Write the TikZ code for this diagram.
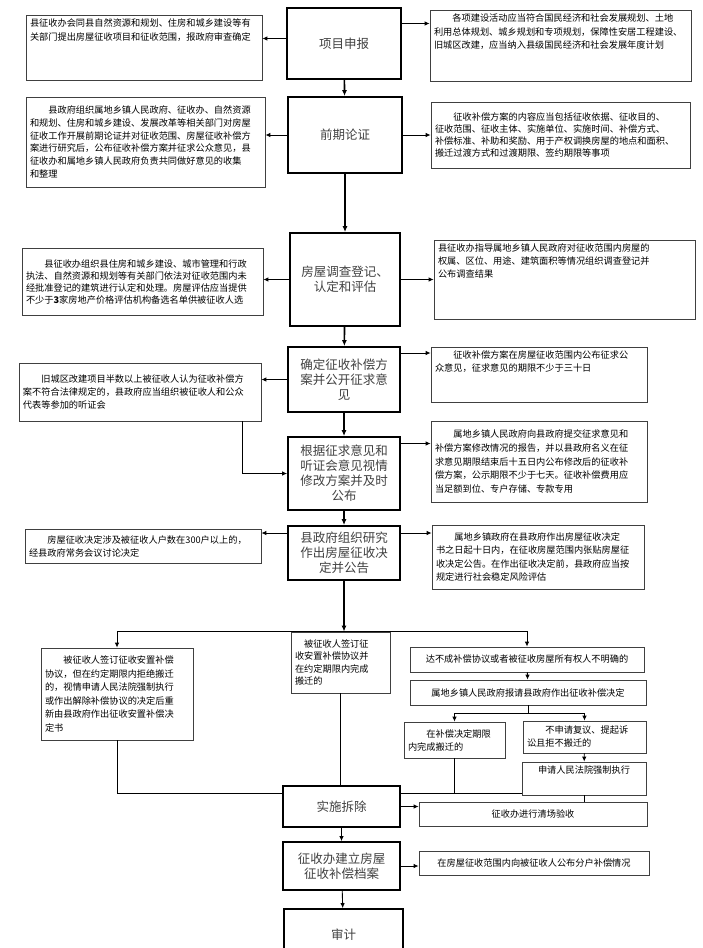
\documentclass[tikz,border=0pt]{standalone}
\usepackage{fontspec}
\setmainfont{Noto Sans CJK SC}
\usetikzlibrary{arrows.meta}

%Top aligned text inside a note box
\newcommand{\toptext}[3]{\parbox[c][#1][t]{#2}{#3}}

\begin{document}
\begin{tikzpicture}[x=1pt,y=-1pt,
	stage/.style={draw,line width=1.8pt,align=center,text=black!75,font=\fontsize{12.5}{15}\selectfont,inner sep=2pt},
	note/.style={draw=black!75,line width=0.8pt,align=left,font=\fontsize{9.2}{13}\selectfont,inner sep=4pt},
	link/.style={line width=0.9pt,-{Latex[length=5pt,width=4.5pt]}},
	mainlink/.style={line width=1.6pt,-{Latex[length=6pt,width=5pt]}},
	plain/.style={line width=0.8pt}]
		
		\useasboundingbox (0,0) rectangle (702,948);
		
		%Main stages
		\node[stage,minimum width=114pt,minimum height=71pt] (proj) at (344,43.5) {项目申报};
		\node[stage,minimum width=114pt,minimum height=76pt] (early) at (345,135) {前期论证};
		\node[stage,minimum width=110pt,minimum height=93pt] (survey) at (345,279.5) {房屋调查登记、\\认定和评估};
		\node[stage,minimum width=112pt,minimum height=65pt] (confirm) at (344,379.5) {确定征收补偿方\\案并公开征求意\\见};
		\node[stage,minimum width=112pt,minimum height=73pt] (revise) at (344,473.5) {根据征求意见和\\听证会意见视情\\修改方案并及时\\公布};
		\node[stage,minimum width=112pt,minimum height=54pt] (decide) at (344,553) {县政府组织研究\\作出房屋征收决\\定并公告};
		\node[stage,minimum width=117pt,minimum height=41pt] (demolish) at (341.5,806.5) {实施拆除};
		\node[stage,minimum width=117pt,minimum height=48pt] (archive) at (341.5,866) {征收办建立房屋\\征收补偿档案};
		\node[stage,minimum width=119pt,minimum height=51pt] (audit) at (343.5,934.5) {审计};
		
		%Notes beside the stages
		\node[note,font=\fontsize{9.2}{14}\selectfont] (l1) at (144,47.5) {\toptext{57pt}{228pt}{县征收办会同县自然资源和规划、住房和城乡建设等有\\关部门提出房屋征收项目和征收范围，报政府审查确定}};
		\node[note,font=\fontsize{9.2}{13.5}\selectfont] (r1) at (560.5,45.5) {\toptext{63pt}{253pt}{\hspace*{2em}各项建设活动应当符合国民经济和社会发展规划、土地\\利用总体规划、城乡规划和专项规划，保障性安居工程建设、\\旧城区改建，应当纳入县级国民经济和社会发展年度计划}};
		\node[note,font=\fontsize{9.2}{12.8}\selectfont,text width=231pt,minimum height=90pt] (l2) at (145.5,142) {\hspace*{2em}县政府组织属地乡镇人民政府、征收办、自然资源\\和规划、住房和城乡建设、发展改革等相关部门对房屋\\征收工作开展前期论证并对征收范围、房屋征收补偿方\\案进行研究后，公布征收补偿方案并征求公众意见，县\\征收办和属地乡镇人民政府负责共同做好意见的收集\\和整理};
		\node[note,font=\fontsize{9.2}{12}\selectfont,text width=251pt,minimum height=66pt] (r2) at (560.5,135) {\hspace*{2em}征收补偿方案的内容应当包括征收依据、征收目的、\\征收范围、征收主体、实施单位、实施时间、补偿方式、\\补偿标准、补助和奖励、用于产权调换房屋的地点和面积、\\搬迁过渡方式和过渡期限、签约期限等事项};
		\node[note,font=\fontsize{9.2}{12}\selectfont,text width=233pt,minimum height=67pt] (l3) at (142.5,281.5) {\hspace*{2em}县征收办组织县住房和城乡建设、城市管理和行政\\执法、自然资源和规划等有关部门依法对征收范围内未\\经批准登记的建筑进行认定和处理。房屋评估应当提供\\不少于\textbf{3}家房地产价格评估机构备选名单供被征收人选};
		\node[note] (r3) at (564.5,279.5) {\toptext{71pt}{253pt}{县征收办指导属地乡镇人民政府对征收范围内房屋的\\权属、区位、用途、建筑面积等情况组织调查登记并\\公布调查结果}};
		\node[note] (r4) at (539,374.5) {\toptext{47pt}{208pt}{\hspace*{2em}征收补偿方案在房屋征收范围内公布征求公\\众意见，征求意见的期限不少于三十日}};
		\node[note,text width=234pt,minimum height=58pt] (l4) at (140,392) {\hspace*{2em}旧城区改建项目半数以上被征收人认为征收补偿方\\案不符合法律规定的，县政府应当组织被征收人和公众\\代表等参加的听证会};
		\node[note,font=\fontsize{9.2}{13.6}\selectfont,text width=208pt,minimum height=81pt] (r5) at (539,461.5) {\hspace*{2em}属地乡镇人民政府向县政府提交征求意见和\\补偿方案修改情况的报告，并以县政府名义在征\\求意见期限结束后十五日内公布修改后的征收补\\偿方案，公示期限不少于七天。征收补偿费用应\\当足额到位、专户存储、专款专用};
		\node[note,text width=228pt,minimum height=34pt] (l6) at (143,546) {\hspace*{2em}房屋征收决定涉及被征收人户数在300户以上的，\\经县政府常务会议讨论决定};
		\node[note,font=\fontsize{9.2}{13.5}\selectfont,text width=204pt,minimum height=64pt] (r6) at (538,557) {\hspace*{2em}属地乡镇政府在县政府作出房屋征收决定\\书之日起十日内，在征收房屋范围内张贴房屋征\\收决定公告。在作出征收决定前，县政府应当按\\规定进行社会稳定风险评估};
		
		%Branches after the decision
		\node[note,font=\fontsize{9.2}{13.6}\selectfont,text width=144pt,minimum height=92pt] (l7) at (117,694) {\hspace*{2em}被征收人签订征收安置补偿\\协议，但在约定期限内拒绝搬迁\\的，视情申请人民法院强制执行\\或作出解除补偿协议的决定后重\\新由县政府作出征收安置补偿决\\定书};
		\node[note,font=\fontsize{9.2}{12.5}\selectfont,text width=91pt,minimum height=61pt] (mid) at (340.5,662.5) {\hspace*{1em}被征收人签订征\\收安置补偿协议并\\在约定期限内完成\\搬迁的};
		\node[note,align=center,minimum width=234pt,minimum height=25pt] (cond) at (527,659.5) {达不成补偿协议或者被征收房屋所有权人不明确的};
		\node[note,align=center,minimum width=236pt,minimum height=25pt] (apply) at (528,692.5) {属地乡镇人民政府报请县政府作出征收补偿决定};
		\node[note,text width=93pt,minimum height=36pt] (inTime) at (454.5,740) {\hspace*{2em}在补偿决定期限\\内完成搬迁的};
		\node[note,text width=115pt,minimum height=32pt] (refuse) at (584.5,737) {\hspace*{2em}不申请复议、提起诉\\讼且拒不搬迁的};
		\node[note,align=center,minimum width=124pt,minimum height=33pt] (court) at (584,778.5) {申请人民法院强制执行\\[4pt]};
		\node[note,align=center,minimum width=228pt,minimum height=24pt] (clear) at (533,814) {征收办进行清场验收};
		\node[note,align=center,minimum width=230pt,minimum height=24pt] (pub) at (534,863) {在房屋征收范围内向被征收人公布分户补偿情况};
		
		%Main flow
		\draw[mainlink] (proj) -- (early);
		\draw[mainlink] (early) -- (survey);
		\draw[mainlink] (survey) -- (confirm);
		\draw[mainlink] (confirm) -- (revise);
		\draw[mainlink] (revise) -- (decide);
		\draw[mainlink,line width=2.2pt] (decide.south) -- (decide.south |- mid.north);
		\draw[link] (demolish) -- (archive);
		\draw[link] (archive) -- (audit);
		
		%Side arrows
		\draw[link] ([yshift=5pt]proj.west) -- ([yshift=5pt]proj.west -| l1.east);
		\draw[link] ([yshift=20pt]proj.east) -- ([yshift=20pt]proj.east -| r1.west);
		\draw[link] (early.west) -- (early.west -| l2.east);
		\draw[link] (early.east) -- (early.east -| r2.west);
		\draw[link] (survey.west) -- (survey.west -| l3.east);
		\draw[link] (survey.east) -- (survey.east -| r3.west);
		\draw[link] ([yshift=26.5pt]confirm.east) -- ([yshift=26.5pt]confirm.east -| r4.west);
		\draw[link] (confirm.west) -- (confirm.west -| l4.east);
		\draw[link] ([xshift=102pt]l4.south) |- (revise.west);
		\draw[link] ([yshift=30pt]revise.east) -- ([yshift=30pt]revise.east -| r5.west);
		\draw[link] ([yshift=20pt]decide.west) -- ([yshift=20pt]decide.west -| l6.east);
		\draw[link] ([yshift=20pt]decide.east) -- ([yshift=20pt]decide.east -| r6.west);
		\draw[link] (archive.east) -- (archive.east -| pub.west);
		\draw[link] (demolish.east) -- (demolish.east -| clear.west);
		
		%Branches
		\draw[link] (mid.north) -| (l7.north);
		\draw[link] (mid.north) -| (cond.north);
		\draw[link] (cond) -- (apply);
		\coordinate (fork) at ([yshift=-8pt]apply.south);
		\draw[plain] (apply.south) -- (fork);
		\draw[link] (fork) -| (inTime.north);
		\draw[link] (fork) -| (refuse.north);
		\draw[link] (refuse) -- (court);
		
		%Joining lines into the demolition
		\coordinate (joinL) at ([yshift=13.5pt]demolish.west);
		\coordinate (joinR) at ([yshift=13.5pt]demolish.east);
		\draw[plain] (l7.south) |- (joinL);
		\draw[plain] (mid.south) -- (mid.south |- demolish.north);
		\draw[plain] (joinR) -- (joinR -| court.west);
		\draw[plain] (inTime) -- (inTime |- joinR);
		\draw[plain] (court) -- (court |- clear.north);
	\end{tikzpicture}
\end{document}
